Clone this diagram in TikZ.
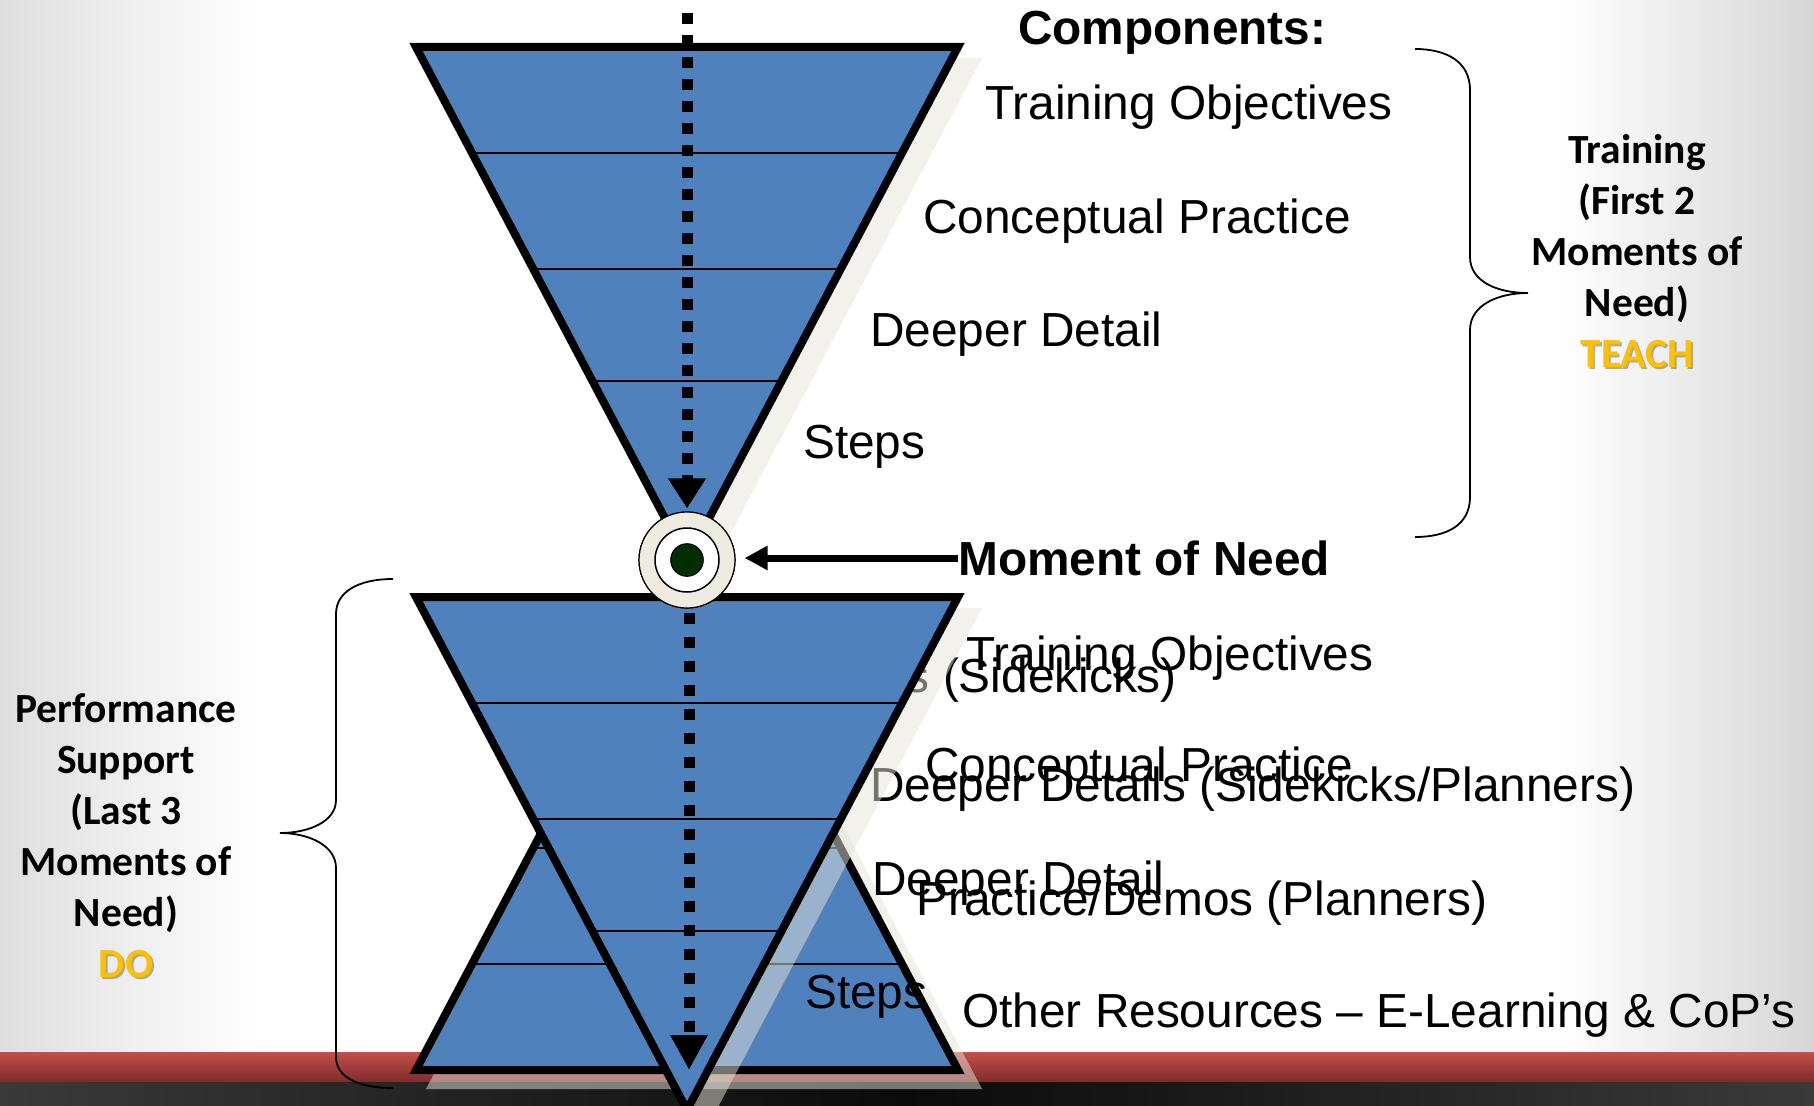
\documentclass[tikz,border=0pt]{standalone}
\usepackage{fontspec}
\setmainfont{Liberation Sans}
\newfontfamily\sidefont{Carlito}
\usetikzlibrary{arrows.meta}

\definecolor{funnelblue}{HTML}{4F81BD}
\definecolor{shadowbeige}{HTML}{E6E4D9}
\definecolor{ringtan}{HTML}{EEECE1}
\definecolor{dotgreen}{HTML}{002E00}
\definecolor{gold}{HTML}{FFC000}
\definecolor{bandred}{HTML}{C44E4A}
\definecolor{bandreddark}{HTML}{7F2C2A}
\definecolor{bandgray}{HTML}{3A3A3A}
\definecolor{bandblack}{HTML}{0B0B0B}
\definecolor{edgegrayL}{HTML}{DEDEDE}
\definecolor{edgegrayR}{HTML}{D6D6D6}

% one funnel: top edge on the local x axis, apex 513 below
\newcommand\funnelbody{%
  \fill[funnelblue] (-271,0) -- (271,0) -- (0,513) -- cycle;
  \draw[tierline] (-215,106) -- (215,106);
  \draw[tierline] (-153.7,222) -- (153.7,222);
  \draw[tierline] (-94.6,334) -- (94.6,334);
  \draw[funneledge] (-271,0) -- (271,0) -- (0,513) -- cycle;}
% its drop shadow (outer outline of the stroked funnel)
\newcommand\funnelshadow{%
  \fill[shadowfill] (-278,-4) -- (278,-4) -- (0,521.6) -- cycle;}

\begin{document}
\begin{tikzpicture}[x=1pt,y=-1pt,
  item/.style={font=\fontsize{47.8}{57}\selectfont, inner sep=0pt, anchor=base west},
  heading/.style={font=\fontsize{47.8}{57}\selectfont\bfseries, inner sep=0pt, anchor=base west},
  side/.style={font=\sidefont\bfseries\fontsize{41.5}{51}\selectfont, inner sep=0pt, anchor=base},
  tierline/.style={line width=1.6pt, black},
  funneledge/.style={line width=8pt, black, line join=miter},
  shadowfill/.style={fill=shadowbeige, fill opacity=0.5},
  brace/.style={line width=1.8pt, black},
  flow/.style={line width=11pt, line cap=butt, black},
  pointer/.style={line width=7pt, black, -{Triangle[length=23pt,width=23pt]}}]

\useasboundingbox (0,0) rectangle (1814,1105);
\clip (0,0) rectangle (1814,1105);

% slide background
\shade[left color=edgegrayL, right color=white] (0,0) rectangle (260,1053);
\fill[white] (259,0) rectangle (1561,1053);
\shade[left color=white, right color=edgegrayR] (1560,0) rectangle (1814,1053);
\shade[top color=bandred, bottom color=bandreddark] (0,1052) rectangle (1814,1082);
\shade[left color=bandgray, right color=bandgray, middle color=bandblack] (0,1082) rectangle (1814,1105);

% braces
\draw[brace] (1415,49) .. controls (1447,49) and (1470,62) .. (1470,90)
  -- (1470,257) .. controls (1470,282) and (1498,293) .. (1528,293)
  .. controls (1498,293) and (1470,305) .. (1470,330)
  -- (1470,497) .. controls (1470,525) and (1447,537) .. (1415,537);
\draw[brace] (393,579) .. controls (358,579) and (336,592) .. (336,614)
  -- (336,800) .. controls (336,822) and (308,833) .. (280,833)
  .. controls (308,833) and (336,845) .. (336,868)
  -- (336,1057) .. controls (336,1077) and (358,1088) .. (393,1088);

% upper funnel (training)
\begin{scope}[shift={(704,62)}]\funnelshadow\end{scope}
\begin{scope}[shift={(687,47)}]\funnelbody\end{scope}

% upright pyramid (performance support)
\begin{scope}[shift={(704,1085)}, yscale=-1]\funnelshadow\end{scope}
\begin{scope}[shift={(687,1070)}, yscale=-1]\funnelbody\end{scope}

% performance support components
\node[item, anchor=base east] (sk) at (1177,692) {s (Sidekicks)};
\node[item] (ddsp) at (870,801) {Deeper Details (Sidekicks/Planners)};
\node[item] (pdp) at (916,915) {Practice/Demos (Planners)};
\node[item] (other) at (962,1027) {Other Resources – E-Learning \& CoP’s};

% lower copy of the funnel
\begin{scope}[shift={(704,612)}]\funnelshadow\end{scope}
\begin{scope}[shift={(687,597)}]\funnelbody\end{scope}

\node[item] (to2) at (966,670) {Training Objectives};
\node[item] (cp2) at (925,781) {Conceptual Practice};
\node[item] (dd2) at (872,895) {Deeper Detail};
\node[item] (st2) at (805,1008) {Steps};

% upper labels
\node[heading] (comp) at (1018,45) {Components:};
\node[item] (to1) at (985,120) {Training Objectives};
\node[item] (cp1) at (923,233) {Conceptual Practice};
\node[item] (dd1) at (870,346) {Deeper Detail};
\node[item] (st1) at (803,458) {Steps};

% side captions
\node[side] (tr1) at (1637,163) {Training};
\node[side] (tr2) at (1637,214) {(First 2};
\node[side] (tr3) at (1637,265) {Moments of};
\node[side] (tr4) at (1637,316) {Need)};
\node[side, text=black, opacity=0.3] (teachsh) at (1639,369) {TEACH};
\node[side, text=gold] (teach) at (1637,367) {TEACH};

\node[side] (ps1) at (126,722) {Performance};
\node[side] (ps2) at (126,773) {Support};
\node[side] (ps3) at (126,824) {(Last 3};
\node[side] (ps4) at (126,875) {Moments of};
\node[side] (ps5) at (126,926) {Need)};
\node[side, text=black, opacity=0.3] (dosh) at (128,979) {DO};
\node[side, text=gold] (do) at (126,977) {DO};

% moment of need marker
\node[circle, minimum size=96pt, inner sep=0pt, fill=ringtan, draw=black, line width=1.2pt] (need) at (687,560) {};
\coordinate (flowtop) at (687,13);
\coordinate (flowbottom) at (689,1070);

\draw[flow, dash pattern=on 11pt off 11pt, -{Triangle[length=30pt,width=36pt]}]
  (flowtop) -- ([yshift=3pt]need.north);
\draw[flow, dash pattern=on 11pt off 13pt, dash phase=20pt, -{Triangle[length=35pt,width=35pt]}]
  ([xshift=2pt]need.south) -- (flowbottom);

\node[circle, minimum size=96pt, inner sep=0pt, fill=ringtan, draw=black, line width=1.2pt] (needring) at (need.center) {};
\node[circle, minimum size=64pt, inner sep=0pt, fill=white, draw=black, line width=1.5pt] (needinner) at (need.center) {};
\node[circle, minimum size=32.6pt, inner sep=0pt, fill=dotgreen, draw=black, line width=1pt] (needdot) at (need.center) {};

\node[heading, anchor=west] (mon) at (958,558) {Moment of Need};
\draw[pointer, shorten >=9pt] (mon.west) -- (mon.west -| need.east);

\end{tikzpicture}
\end{document}
